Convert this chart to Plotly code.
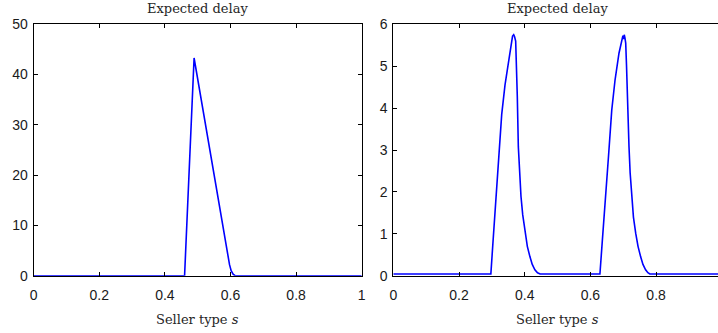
import plotly.graph_objects as go

# Left panel: expected delay against seller type
s_left = [0.0, 0.460, 0.489, 0.507, 0.527, 0.548, 0.568, 0.580, 0.586,
          0.592, 0.597, 0.602, 0.608, 0.614, 1.0]
delay_left = [0.0, 0.0, 43.3, 36.4, 28.7, 20.7, 13.0, 8.4, 6.0,
              3.8, 2.2, 1.0, 0.3, 0.0, 0.0]

# Right panel: expected delay with two humps
s_right = [0.0, 0.297, 0.303, 0.310, 0.320, 0.330, 0.340, 0.350, 0.358,
           0.363, 0.3665, 0.369, 0.3725, 0.375, 0.3775, 0.3806, 0.384,
           0.3887, 0.394, 0.401, 0.408, 0.416, 0.423, 0.431, 0.439, 0.447,
           0.629, 0.636, 0.644, 0.655, 0.665, 0.675, 0.687, 0.695, 0.699,
           0.7014, 0.703, 0.705, 0.7075, 0.710, 0.7124, 0.7175, 0.721,
           0.7256, 0.731, 0.738, 0.745, 0.753, 0.760, 0.768, 0.775, 0.781,
           1.0]
delay_right = [0.04, 0.04, 0.75, 1.55, 2.84, 3.85, 4.55, 5.10, 5.50,
               5.72, 5.75, 5.71, 5.60, 5.00, 4.27, 3.08, 2.40,
               1.89, 1.45, 1.01, 0.70, 0.45, 0.27, 0.14, 0.07, 0.04,
               0.04, 0.80, 1.57, 2.84, 3.95, 4.67, 5.31, 5.63, 5.73,
               5.65, 5.75, 5.68, 5.55, 5.00, 4.27, 3.08, 2.45,
               1.89, 1.40, 1.01, 0.70, 0.45, 0.27, 0.14, 0.07, 0.04,
               0.04]

x_ticks = [0, 0.2, 0.4, 0.6, 0.8, 1.0]
x_tick_text = ["0", "0.2", "0.4", "0.6", "0.8", "1"]
y_ticks_left = [0, 10, 20, 30, 40, 50]
y_ticks_right = [0, 1, 2, 3, 4, 5, 6]

panel_title = "Expected delay"
x_label = "Seller type <i>s</i>"

W, H = 718, 333
line_color = "#0000ff"
axis_color = "#000000"
tick_font = dict(family="Liberation Sans, Arial, sans-serif", size=14, color="#1a1a1a")
serif_font = dict(family="DejaVu Serif, Liberation Serif, serif", size=13, color="#262626")

# plot-area edges in pixels
left_x0, left_x1 = 33.7, 361.7
right_x0 = 393.3
right_unit = 328.5
y_top, y_bot = 24.3, 275.7
right_xmax = (W - right_x0) / right_unit

fig = go.Figure()
fig.add_trace(go.Scatter(x=s_left, y=delay_left, mode="lines",
                         line=dict(color=line_color, width=1.6),
                         xaxis="x", yaxis="y", showlegend=False))
fig.add_trace(go.Scatter(x=s_right, y=delay_right, mode="lines",
                         line=dict(color=line_color, width=1.6),
                         xaxis="x2", yaxis="y2", showlegend=False))

common = dict(showgrid=False, zeroline=False, showline=True, linecolor=axis_color,
              linewidth=1, ticks="inside", ticklen=4, tickcolor=axis_color,
              tickfont=tick_font, automargin=False)

ydom = [1 - y_bot / H, 1 - y_top / H]

fig.update_layout(
    width=W, height=H,
    margin=dict(l=0, r=0, t=0, b=0),
    paper_bgcolor="white", plot_bgcolor="white",
    xaxis=dict(domain=[left_x0 / W, left_x1 / W], range=[0, 1],
               tickvals=x_ticks, ticktext=x_tick_text, mirror="ticks",
               anchor="y", ticklabelstandoff=6, **common),
    yaxis=dict(domain=ydom, range=[0, 50], tickvals=y_ticks_left,
               mirror="ticks", anchor="x", ticklabelstandoff=2, **common),
    xaxis2=dict(domain=[right_x0 / W, 1.0], range=[0, right_xmax],
                tickvals=x_ticks[:-1], ticktext=x_tick_text[:-1],
                mirror="ticks", anchor="y2", ticklabelstandoff=6, **common),
    yaxis2=dict(domain=ydom, range=[0, 6], tickvals=y_ticks_right,
                mirror=False, anchor="x2", ticklabelstandoff=2, **common),
)

# titles and axis labels
left_cx = (left_x0 + left_x1) / 2
right_cx = right_x0 + right_unit / 2
for cx in (left_cx, right_cx):
    fig.add_annotation(x=cx / W, y=1 - 9 / H, xref="paper", yref="paper",
                       text=panel_title, showarrow=False, font=serif_font,
                       xanchor="center", yanchor="middle")
    fig.add_annotation(x=cx / W, y=1 - 319 / H, xref="paper", yref="paper",
                       text=x_label, showarrow=False, font=serif_font,
                       xanchor="center", yanchor="middle")

fig.write_html("out.html")
